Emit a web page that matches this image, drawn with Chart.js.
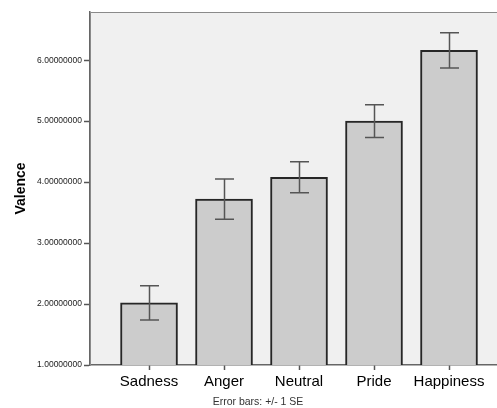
<!DOCTYPE html>
<html>
<head>
<meta charset="utf-8">
<script src="https://cdn.jsdelivr.net/npm/chart.js@4.4.1/dist/chart.umd.min.js"></script>
<style>
  html, body { margin: 0; padding: 0; background: #ffffff; }
  #wrap { width: 497px; height: 408px; position: relative; }
</style>
</head>
<body>
<div id="wrap"><canvas id="c" width="497" height="408"></canvas></div>
<script>
const categories = ["Sadness", "Anger", "Neutral", "Pride", "Happiness"];
const meanValence = [2.02, 3.72, 4.08, 5.00, 6.16];
const standardError = [0.28, 0.33, 0.255, 0.27, 0.29];
const yTickValues = [1, 2, 3, 4, 5, 6];
const footnote = "Error bars: +/- 1 SE";
const yTitle = "Valence";

const plotBg = {
  id: 'plotBg',
  beforeDraw(chart) {
    const { ctx, chartArea: a } = chart;
    ctx.save();
    ctx.fillStyle = '#f0f0f0';
    ctx.fillRect(a.left, a.top, a.right - a.left, a.bottom - a.top);
    ctx.restore();
  },
  afterDraw(chart) {
    const { ctx, chartArea: a } = chart;
    ctx.save();
    ctx.strokeStyle = '#8a8a8a';
    ctx.lineWidth = 1;
    ctx.beginPath();
    ctx.moveTo(a.left + 0.5, a.bottom);
    ctx.lineTo(a.left + 0.5, a.top + 0.5);
    ctx.lineTo(a.right, a.top + 0.5);
    ctx.stroke();
    ctx.fillStyle = '#333333';
    ctx.font = '10.5px "Liberation Sans", Arial, sans-serif';
    ctx.textAlign = 'center';
    ctx.textBaseline = 'middle';
    ctx.fillText(footnote, 258, 402);
    ctx.restore();
  }
};

const errorBars = {
  id: 'errorBars',
  afterDatasetsDraw(chart) {
    const { ctx, scales: { x, y } } = chart;
    ctx.save();
    ctx.strokeStyle = '#555555';
    ctx.lineWidth = 1.5;
    meanValence.forEach((m, i) => {
      const px = Math.round(x.getPixelForValue(i)) + 0.5;
      const top = y.getPixelForValue(m + standardError[i]);
      const bot = y.getPixelForValue(m - standardError[i]);
      const hw = 9.5;
      ctx.beginPath();
      ctx.moveTo(px, top); ctx.lineTo(px, bot);
      ctx.moveTo(px - hw, top); ctx.lineTo(px + hw, top);
      ctx.moveTo(px - hw, bot); ctx.lineTo(px + hw, bot);
      ctx.stroke();
    });
    ctx.restore();
  }
};

new Chart(document.getElementById('c'), {
  type: 'bar',
  data: {
    datasets: [{
      data: categories.map((c, i) => ({ x: i, y: meanValence[i] })),
      backgroundColor: '#cccccc',
      borderColor: '#262626',
      borderWidth: 2,
      borderSkipped: false,
      barThickness: 57
    }]
  },
  options: {
    responsive: false,
    animation: false,
    layout: { padding: { top: 12, left: 0, right: 0, bottom: 0 } },
    plugins: { legend: { display: false }, tooltip: { enabled: false } },
    scales: {
      x: {
        type: 'linear',
        offset: false,
        min: -0.787,
        max: 4.64,
        afterBuildTicks(s) { s.ticks = categories.map((c, i) => ({ value: i })); },
        afterFit(s) { s.height = 43; },
        grid: { offset: false, drawOnChartArea: false, tickLength: 5, tickColor: '#555555', tickWidth: 1.5 },
        border: { color: '#666666', width: 1.5 },
        ticks: {
          autoSkip: false,
          maxRotation: 0,
          padding: 3,
          color: '#000000',
          font: { family: '"Liberation Sans", Arial, sans-serif', size: 15 },
          callback: (v) => categories[v]
        }
      },
      y: {
        min: 1,
        max: 6.79,
        afterBuildTicks(s) { s.ticks = yTickValues.map(v => ({ value: v })); },
        afterFit(s) { s.width = 90; },
        grid: { drawOnChartArea: false, tickLength: 6, tickColor: '#555555', tickWidth: 1.5 },
        border: { color: '#666666', width: 1.5 },
        title: {
          display: true,
          text: yTitle,
          color: '#000000',
          font: { family: '"Liberation Sans", Arial, sans-serif', size: 14, weight: 'bold' },
          padding: { top: 13, bottom: 0 }
        },
        ticks: {
          padding: 2,
          color: '#222222',
          font: { family: '"Liberation Sans", Arial, sans-serif', size: 8.5 },
          callback: (v) => Number(v).toFixed(8)
        }
      }
    }
  },
  plugins: [plotBg, errorBars]
});
</script>
</body>
</html>
